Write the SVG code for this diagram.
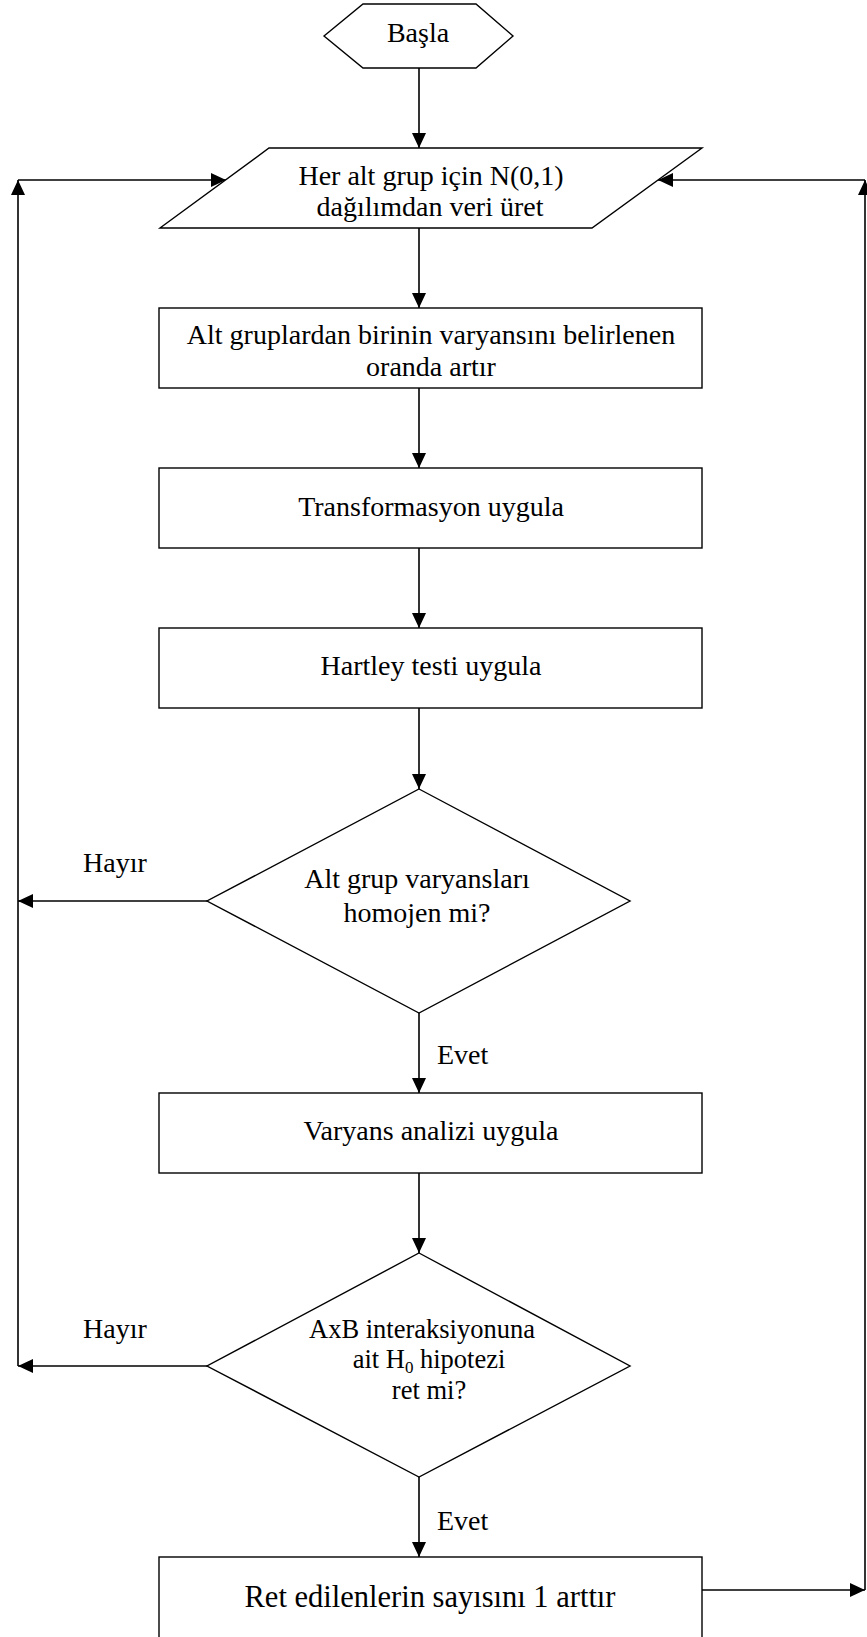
<svg xmlns="http://www.w3.org/2000/svg" width="867" height="1637" viewBox="0 0 867 1637">
<defs>
<style>
.shape{fill:#fff;stroke:#000;stroke-width:1.4}
.conn{stroke:#000;stroke-width:1.6;fill:none;marker-end:url(#arr)}
text{font-family:"Liberation Serif","Times New Roman",serif;font-size:28px;fill:#000;text-anchor:middle}
.lbl{text-anchor:start}
</style>
<marker id="arr" markerUnits="userSpaceOnUse" markerWidth="15" markerHeight="14" refX="15" refY="7" orient="auto">
<path d="M0,0 L15,7 L0,14 z" fill="#000"/>
</marker>
</defs>
<rect width="867" height="1637" fill="#fff"/>
<g id="connectors">
<line class="conn" x1="419" y1="68" x2="419" y2="148"/>
<line class="conn" x1="419" y1="228" x2="419" y2="308"/>
<line class="conn" x1="419" y1="388" x2="419" y2="468"/>
<line class="conn" x1="419" y1="548" x2="419" y2="628"/>
<line class="conn" x1="419" y1="708" x2="419" y2="789"/>
<line class="conn" x1="419" y1="1013" x2="419" y2="1093"/>
<line class="conn" x1="419" y1="1173" x2="419" y2="1253"/>
<line class="conn" x1="419" y1="1477" x2="419" y2="1557"/>
<line class="conn" x1="207" y1="901" x2="18" y2="901"/>
<line class="conn" x1="207" y1="1366" x2="18" y2="1366"/>
<line class="conn" x1="18" y1="1366" x2="18" y2="180"/>
<line class="conn" x1="18" y1="180" x2="226" y2="180"/>
<line class="conn" x1="702" y1="1590" x2="865" y2="1590"/>
<line class="conn" x1="865" y1="1590" x2="865" y2="180"/>
<line class="conn" x1="865" y1="180" x2="658" y2="180"/>
<text class="lbl" x="83" y="872">Hayır</text>
<text class="lbl" x="437" y="1064">Evet</text>
<text class="lbl" x="83" y="1338">Hayır</text>
<text class="lbl" x="437" y="1530">Evet</text>
</g>
<g id="start">
<polygon class="shape" points="324,36 363,4 476,4 513,36 476,68 363,68"/>
<text x="418" y="42">Başla</text>
</g>
<g id="generate">
<polygon class="shape" points="269,148 702,148 592,228 160,228"/>
<text x="431" y="185">Her alt grup için N(0,1)</text>
<text x="430" y="216">dağılımdan veri üret</text>
</g>
<g id="increase">
<rect class="shape" x="159" y="308" width="543" height="80"/>
<text x="431" y="344">Alt gruplardan birinin varyansını belirlenen</text>
<text x="431" y="376">oranda artır</text>
</g>
<g id="transform">
<rect class="shape" x="159" y="468" width="543" height="80"/>
<text x="431" y="516">Transformasyon uygula</text>
</g>
<g id="hartley">
<rect class="shape" x="159" y="628" width="543" height="80"/>
<text x="431" y="675">Hartley testi uygula</text>
</g>
<g id="homogen">
<polygon class="shape" points="419,789 630,901 419,1013 207,901"/>
<text x="417" y="888">Alt grup varyansları</text>
<text x="417" y="922">homojen mi?</text>
</g>
<g id="anova">
<rect class="shape" x="159" y="1093" width="543" height="80"/>
<text x="431" y="1140">Varyans analizi uygula</text>
</g>
<g id="interaction">
<polygon class="shape" points="419,1253 630,1366 419,1477 207,1366"/>
<text x="422" y="1338" style="font-size:26.5px">AxB interaksiyonuna</text>
<text x="429" y="1368" style="font-size:26.5px">ait H<tspan font-size="17" dy="5">0</tspan><tspan dy="-5"> hipotezi</tspan></text>
<text x="429" y="1399" style="font-size:26.5px">ret mi?</text>
</g>
<g id="count">
<rect class="shape" x="159" y="1557" width="543" height="90"/>
<text x="430" y="1607" style="font-size:30.5px">Ret edilenlerin sayısını 1 arttır</text>
</g>
</svg>
